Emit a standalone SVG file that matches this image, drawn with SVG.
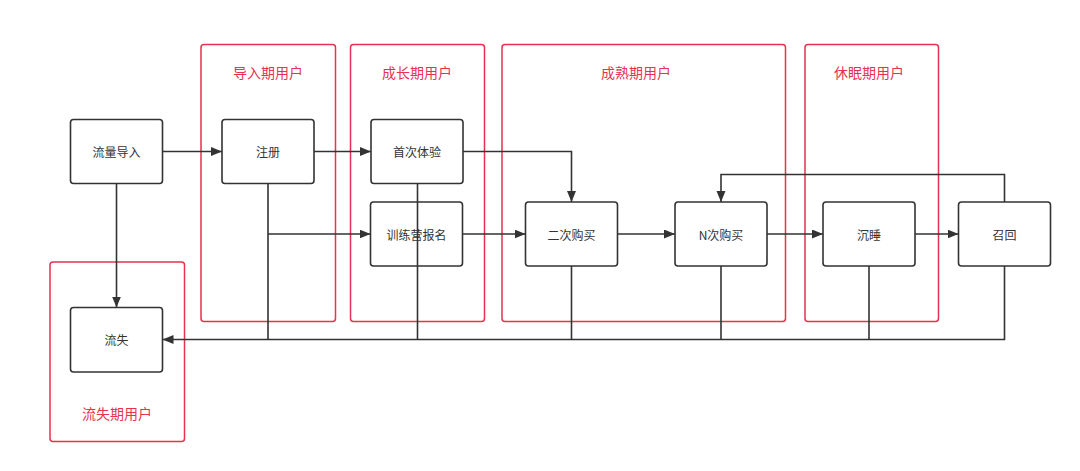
<svg xmlns="http://www.w3.org/2000/svg" width="1080" height="471" viewBox="0 0 1080 471">
<defs>
<style>
.grp{fill:none;stroke:#e8304f;stroke-width:1.5}
.glab{font-family:"Noto Sans CJK SC","Noto Sans",sans-serif;font-size:14px;fill:#e8304f;text-anchor:middle}
.node rect{fill:#fff;stroke:#333;stroke-width:1.6}
.node text{font-family:"Noto Sans CJK SC","Noto Sans",sans-serif;font-size:12px;fill:#333;text-anchor:middle;dominant-baseline:central}
.edge{fill:none;stroke:#333;stroke-width:1.6}
</style>
<marker id="arr" markerWidth="12" markerHeight="10" refX="11" refY="4.5" orient="auto" markerUnits="userSpaceOnUse">
<path d="M0,0 L11,4.5 L0,9 z" fill="#333"/>
</marker>
</defs>
<rect width="1080" height="471" fill="#fff"/>
<g id="groups">
<g id="g-import"><rect class="grp" x="201" y="44.5" width="134.5" height="277" rx="3"/><text class="glab" x="268" y="78">导入期用户</text></g>
<g id="g-growth"><rect class="grp" x="350.5" y="44.5" width="134" height="277" rx="3"/><text class="glab" x="417" y="78">成长期用户</text></g>
<g id="g-mature"><rect class="grp" x="502" y="44.5" width="283.5" height="277" rx="3"/><text class="glab" x="636" y="78">成熟期用户</text></g>
<g id="g-dormant"><rect class="grp" x="805" y="44.5" width="133.5" height="277" rx="3"/><text class="glab" x="869" y="78">休眠期用户</text></g>
<g id="g-lost"><rect class="grp" x="50" y="262" width="134.5" height="179.5" rx="3"/><text class="glab" x="117" y="419">流失期用户</text></g>
</g>
<g id="n-traffic" class="node"><rect x="70.5" y="119.5" width="92" height="64" rx="3"/><text x="116.5" y="151.5">流量导入</text></g>
<g id="n-register" class="node"><rect x="222" y="119.5" width="92" height="64" rx="3"/><text x="268" y="151.5">注册</text></g>
<g id="n-first" class="node"><rect x="371" y="119.5" width="92" height="64" rx="3"/><text x="417" y="151.5">首次体验</text></g>
<g id="n-camp" class="node"><rect x="370.5" y="202" width="92" height="64" rx="3"/><text x="416.5" y="234">训练营报名</text></g>
<g id="n-second" class="node"><rect x="525.5" y="202" width="92" height="64" rx="3"/><text x="571.5" y="234">二次购买</text></g>
<g id="n-nth" class="node"><rect x="675" y="202" width="92" height="64" rx="3"/><text x="721" y="234">N次购买</text></g>
<g id="n-sleep" class="node"><rect x="823" y="202" width="92" height="64" rx="3"/><text x="869" y="234">沉睡</text></g>
<g id="n-recall" class="node"><rect x="958.5" y="202" width="92" height="64" rx="3"/><text x="1004.5" y="234">召回</text></g>
<g id="n-lost" class="node"><rect x="70.5" y="307.5" width="92" height="64.5" rx="3"/><text x="116.5" y="339.5">流失</text></g>
<g id="connectors">
<path class="edge" d="M162.5,151.5 H222" marker-end="url(#arr)"/>
<path class="edge" d="M314,151.5 H371" marker-end="url(#arr)"/>
<path class="edge" d="M463,151.5 H571.5 V202" marker-end="url(#arr)"/>
<path class="edge" d="M268,183.5 V339.5"/>
<path class="edge" d="M268,234 H370.5" marker-end="url(#arr)"/>
<path class="edge" d="M462.5,234 H525.5" marker-end="url(#arr)"/>
<path class="edge" d="M617.5,234 H675" marker-end="url(#arr)"/>
<path class="edge" d="M767,234 H823" marker-end="url(#arr)"/>
<path class="edge" d="M915,234 H958.5" marker-end="url(#arr)"/>
<path class="edge" d="M1004.5,202 V174.5 H721 V202" marker-end="url(#arr)"/>
<path class="edge" d="M116.5,183.5 V307.5" marker-end="url(#arr)"/>
<path class="edge" d="M417.5,183.5 V339.5"/>
<path class="edge" d="M571.5,266 V339.5"/>
<path class="edge" d="M721,266 V339.5"/>
<path class="edge" d="M869,266 V339.5"/>
<path class="edge" d="M1004.5,266 V339.5 H162.5" marker-end="url(#arr)"/>
</g>
</svg>
